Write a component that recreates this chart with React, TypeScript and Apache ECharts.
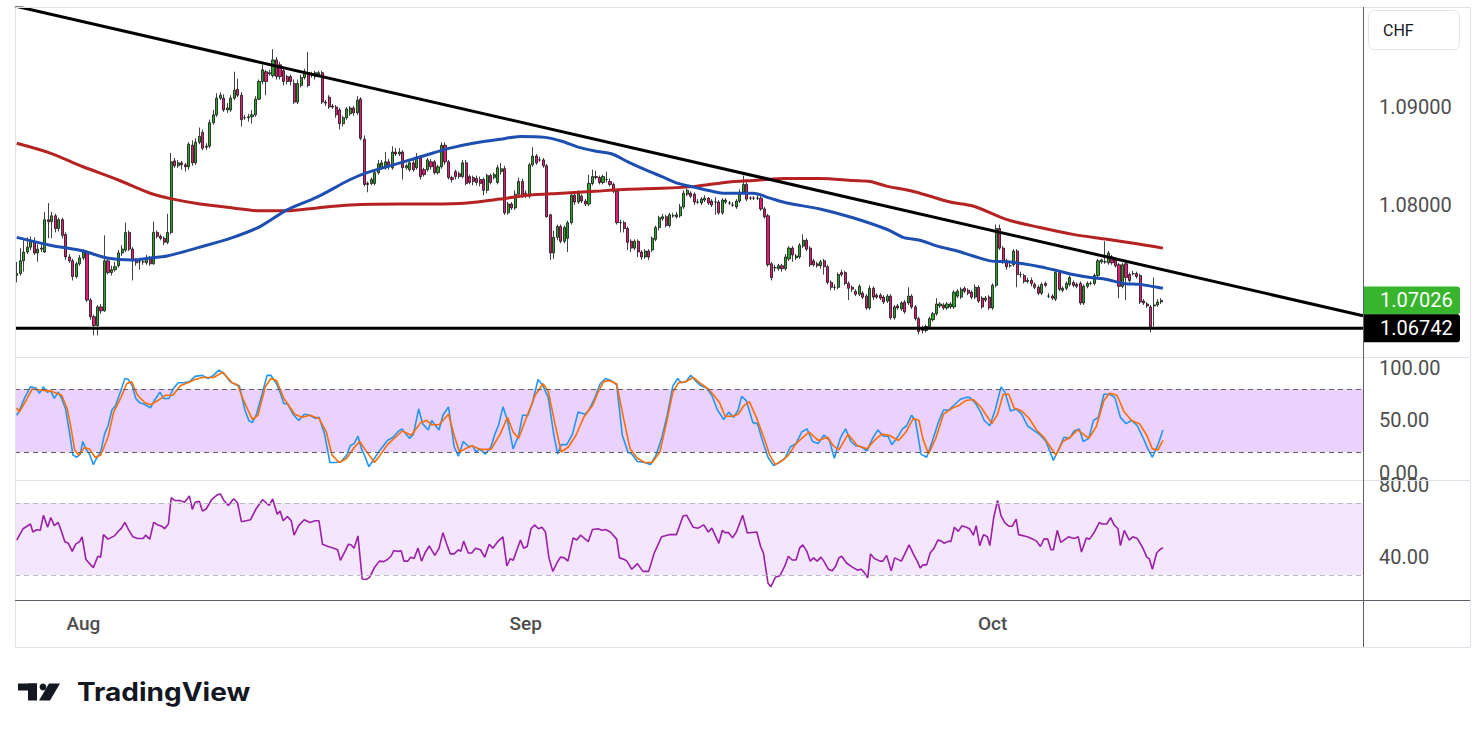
import React, { useEffect, useRef } from 'react';
import * as echarts from 'echarts';

const SLOT_COUNT = 384;
const monthTicks = [19, 145, 278];
const monthLabels = ['Aug', 'Sep', 'Oct'];
const priceTicks = [1.08, 1.09];
const stochTicks = [0, 50, 100];
const stochBands = [20, 80];
const rsiTicks = [40, 80];
const rsiBands = [30, 70];
const supportLevel = 1.06742;
const lastPrice = 1.07026;
const trendLine = [[-0.5, 1.1003], [383.5, 1.0687]];
const currency = 'CHF';

const opens = [
  1.0728,1.0730,1.0743,1.0752,1.0757,1.0762,1.0751,1.0755,1.0752,1.0785,
  1.0783,1.0789,1.0776,1.0785,1.0770,1.0747,1.0743,1.0727,1.0740,1.0746,
  1.0752,1.0703,1.0686,1.0677,1.0696,1.0692,1.0743,1.0731,1.0734,1.0738,
  1.0751,1.0754,1.0772,1.0755,1.0744,1.0742,1.0742,1.0741,1.0746,1.0740,
  1.0772,1.0768,1.0766,1.0762,1.0772,1.0845,1.0840,1.0843,1.0841,1.0839,
  1.0861,1.0843,1.0864,1.0874,1.0859,1.0860,1.0884,1.0892,1.0909,1.0909,
  1.0897,1.0897,1.0909,1.0918,1.0912,1.0889,1.0889,1.0890,1.0892,1.0908,
  1.0926,1.0936,1.0934,1.0932,1.0948,1.0943,1.0937,1.0931,1.0931,1.0924,
  1.0905,1.0922,1.0930,1.0935,1.0933,1.0931,1.0933,1.0935,1.0905,1.0910,
  1.0901,1.0900,1.0897,1.0883,1.0889,1.0893,1.0899,1.0894,1.0908,1.0867,
  1.0822,1.0822,1.0822,1.0833,1.0838,1.0838,1.0844,1.0838,1.0854,1.0852,
  1.0854,1.0838,1.0836,1.0843,1.0838,1.0849,1.0836,1.0836,1.0844,1.0844,
  1.0833,1.0839,1.0861,1.0844,1.0828,1.0834,1.0832,1.0829,1.0843,1.0829,
  1.0828,1.0827,1.0826,1.0826,1.0815,1.0830,1.0828,1.0823,1.0834,1.0837,
  1.0792,1.0801,1.0797,1.0811,1.0824,1.0812,1.0809,1.0841,1.0850,1.0846,
  1.0846,1.0840,1.0790,1.0751,1.0767,1.0778,1.0763,1.0766,1.0782,1.0810,
  1.0803,1.0809,1.0804,1.0801,1.0822,1.0829,1.0828,1.0823,1.0826,1.0824,
  1.0821,1.0814,1.0782,1.0782,1.0776,1.0763,1.0756,1.0763,1.0752,1.0747,
  1.0753,1.0754,1.0765,1.0777,1.0786,1.0788,1.0779,1.0789,1.0788,1.0789,
  1.0798,1.0811,1.0812,1.0811,1.0803,1.0802,1.0805,1.0807,1.0804,1.0803,
  1.0803,1.0792,1.0803,1.0802,1.0800,1.0798,1.0804,1.0813,1.0821,1.0807,
  1.0807,1.0807,1.0807,1.0796,1.0789,1.0740,1.0736,1.0735,1.0738,1.0735,
  1.0745,1.0756,1.0746,1.0747,1.0758,1.0764,1.0756,1.0743,1.0740,1.0738,
  1.0743,1.0737,1.0721,1.0716,1.0716,1.0731,1.0731,1.0720,1.0716,1.0712,
  1.0709,1.0710,1.0707,1.0695,1.0715,1.0708,1.0708,1.0706,1.0702,1.0707,
  1.0685,1.0697,1.0694,1.0701,1.0700,1.0707,1.0696,1.0684,1.0674,1.0672,
  1.0676,1.0683,1.0689,1.0697,1.0698,1.0695,1.0696,1.0696,1.0707,1.0706,
  1.0715,1.0713,1.0711,1.0706,1.0716,1.0705,1.0703,1.0706,1.0695,1.0718,
  1.0776,1.0756,1.0743,1.0738,1.0739,1.0753,1.0729,1.0728,1.0722,1.0723,
  1.0719,1.0716,1.0710,1.0720,1.0707,1.0707,1.0704,1.0731,1.0713,1.0715,
  1.0719,1.0721,1.0719,1.0720,1.0700,1.0717,1.0720,1.0720,1.0728,1.0742,
  1.0742,1.0741,1.0747,1.0745,1.0739,1.0717,1.0740,1.0729,1.0730,1.0730,
  1.0728,1.0702,1.0699,1.0696,1.0697,1.0698,1.0701,
];

const closes = [
  1.0730,1.0743,1.0752,1.0757,1.0762,1.0751,1.0755,1.0756,1.0785,1.0783,
  1.0789,1.0776,1.0785,1.0769,1.0747,1.0743,1.0727,1.0740,1.0746,1.0752,
  1.0703,1.0686,1.0677,1.0696,1.0692,1.0743,1.0731,1.0734,1.0737,1.0751,
  1.0755,1.0772,1.0755,1.0743,1.0741,1.0742,1.0742,1.0746,1.0740,1.0772,
  1.0768,1.0766,1.0762,1.0772,1.0844,1.0840,1.0843,1.0841,1.0839,1.0862,
  1.0843,1.0864,1.0870,1.0858,1.0860,1.0884,1.0892,1.0909,1.0912,1.0897,
  1.0899,1.0909,1.0917,1.0912,1.0887,1.0889,1.0890,1.0892,1.0908,1.0926,
  1.0938,1.0926,1.0935,1.0948,1.0931,1.0931,1.0926,1.0926,1.0926,1.0905,
  1.0924,1.0930,1.0936,1.0922,1.0934,1.0935,1.0935,1.0905,1.0904,1.0900,
  1.0900,1.0892,1.0883,1.0889,1.0898,1.0899,1.0894,1.0907,1.0868,1.0821,
  1.0821,1.0826,1.0833,1.0842,1.0843,1.0844,1.0839,1.0854,1.0852,1.0854,
  1.0838,1.0840,1.0843,1.0836,1.0849,1.0829,1.0831,1.0846,1.0839,1.0833,
  1.0839,1.0861,1.0844,1.0828,1.0826,1.0829,1.0829,1.0843,1.0822,1.0823,
  1.0824,1.0823,1.0822,1.0815,1.0830,1.0823,1.0831,1.0838,1.0837,1.0792,
  1.0801,1.0797,1.0811,1.0824,1.0809,1.0809,1.0841,1.0850,1.0843,1.0846,
  1.0840,1.0788,1.0751,1.0767,1.0778,1.0763,1.0777,1.0782,1.0810,1.0803,
  1.0812,1.0804,1.0801,1.0822,1.0829,1.0828,1.0823,1.0829,1.0826,1.0821,
  1.0814,1.0782,1.0782,1.0776,1.0762,1.0756,1.0763,1.0752,1.0747,1.0753,
  1.0747,1.0766,1.0777,1.0787,1.0788,1.0779,1.0790,1.0789,1.0790,1.0798,
  1.0812,1.0815,1.0809,1.0803,1.0803,1.0806,1.0807,1.0802,1.0800,1.0803,
  1.0792,1.0805,1.0805,1.0802,1.0800,1.0804,1.0813,1.0821,1.0806,1.0807,
  1.0807,1.0807,1.0796,1.0788,1.0739,1.0726,1.0736,1.0738,1.0735,1.0747,
  1.0756,1.0749,1.0748,1.0759,1.0764,1.0755,1.0739,1.0739,1.0738,1.0742,
  1.0737,1.0721,1.0716,1.0716,1.0729,1.0729,1.0720,1.0715,1.0714,1.0709,
  1.0717,1.0706,1.0695,1.0715,1.0706,1.0706,1.0705,1.0701,1.0707,1.0685,
  1.0696,1.0695,1.0700,1.0691,1.0707,1.0696,1.0684,1.0671,1.0672,1.0676,
  1.0684,1.0689,1.0699,1.0699,1.0695,1.0699,1.0699,1.0711,1.0712,1.0714,
  1.0712,1.0710,1.0706,1.0716,1.0702,1.0696,1.0705,1.0695,1.0718,1.0776,
  1.0756,1.0742,1.0737,1.0738,1.0753,1.0729,1.0729,1.0722,1.0723,1.0720,
  1.0716,1.0710,1.0719,1.0718,1.0707,1.0705,1.0731,1.0714,1.0715,1.0720,
  1.0726,1.0718,1.0717,1.0700,1.0717,1.0720,1.0720,1.0728,1.0743,1.0744,
  1.0742,1.0751,1.0741,1.0738,1.0717,1.0739,1.0726,1.0723,1.0730,1.0727,
  1.0701,1.0700,1.0697,1.0676,1.0698,1.0701,1.07026,
];

const highs = [
  1.0742,1.0756,1.0764,1.0767,1.0768,1.0767,1.0760,1.0761,1.0793,1.0802,
  1.0793,1.0791,1.0787,1.0787,1.0772,1.0750,1.0745,1.0742,1.0749,1.0755,
  1.0754,1.0705,1.0688,1.0698,1.0699,1.0769,1.0746,1.0738,1.0742,1.0754,
  1.0759,1.0782,1.0774,1.0757,1.0746,1.0746,1.0745,1.0749,1.0748,1.0783,
  1.0774,1.0770,1.0768,1.0791,1.0853,1.0848,1.0846,1.0845,1.0843,1.0864,
  1.0866,1.0868,1.0879,1.0877,1.0863,1.0887,1.0897,1.0914,1.0915,1.0913,
  1.0904,1.0912,1.0936,1.0929,1.0915,1.0892,1.0893,1.0897,1.0911,1.0928,
  1.0943,1.0938,1.0938,1.0959,1.0951,1.0946,1.0940,1.0933,1.0933,1.0928,
  1.0928,1.0933,1.0939,1.0956,1.0936,1.0937,1.0937,1.0937,1.0907,1.0912,
  1.0903,1.0902,1.0899,1.0891,1.0900,1.0901,1.0901,1.0911,1.0910,1.0871,
  1.0824,1.0828,1.0836,1.0846,1.0846,1.0854,1.0847,1.0860,1.0858,1.0858,
  1.0856,1.0842,1.0846,1.0846,1.0853,1.0851,1.0838,1.0848,1.0847,1.0846,
  1.0841,1.0864,1.0864,1.0846,1.0830,1.0836,1.0834,1.0846,1.0846,1.0831,
  1.0830,1.0830,1.0829,1.0828,1.0832,1.0832,1.0833,1.0841,1.0843,1.0840,
  1.0803,1.0803,1.0815,1.0828,1.0827,1.0815,1.0843,1.0859,1.0852,1.0849,
  1.0848,1.0842,1.0791,1.0774,1.0780,1.0780,1.0779,1.0784,1.0812,1.0812,
  1.0815,1.0811,1.0806,1.0831,1.0836,1.0835,1.0830,1.0831,1.0834,1.0827,
  1.0823,1.0816,1.0785,1.0784,1.0778,1.0765,1.0765,1.0765,1.0754,1.0755,
  1.0755,1.0768,1.0779,1.0789,1.0791,1.0790,1.0792,1.0792,1.0793,1.0801,
  1.0815,1.0817,1.0814,1.0813,1.0806,1.0808,1.0810,1.0808,1.0806,1.0808,
  1.0805,1.0807,1.0807,1.0804,1.0803,1.0806,1.0816,1.0830,1.0826,1.0809,
  1.0809,1.0810,1.0809,1.0798,1.0791,1.0742,1.0739,1.0740,1.0740,1.0750,
  1.0758,1.0758,1.0750,1.0761,1.0770,1.0766,1.0758,1.0745,1.0742,1.0744,
  1.0745,1.0739,1.0723,1.0719,1.0731,1.0734,1.0733,1.0722,1.0718,1.0714,
  1.0719,1.0712,1.0709,1.0718,1.0717,1.0710,1.0710,1.0708,1.0709,1.0709,
  1.0698,1.0699,1.0702,1.0703,1.0716,1.0709,1.0698,1.0686,1.0677,1.0678,
  1.0686,1.0691,1.0705,1.0701,1.0700,1.0701,1.0701,1.0713,1.0714,1.0716,
  1.0717,1.0715,1.0713,1.0719,1.0718,1.0707,1.0707,1.0708,1.0720,1.0780,
  1.0780,1.0758,1.0745,1.0741,1.0755,1.0755,1.0732,1.0730,1.0726,1.0726,
  1.0721,1.0718,1.0721,1.0722,1.0710,1.0709,1.0733,1.0733,1.0717,1.0722,
  1.0728,1.0723,1.0721,1.0722,1.0719,1.0722,1.0722,1.0730,1.0745,1.0745,
  1.0763,1.0753,1.0749,1.0747,1.0741,1.0741,1.0742,1.0731,1.0733,1.0732,
  1.0730,1.0704,1.0701,1.0698,1.0726,1.0704,1.0705,
];

const lows = [
  1.0721,1.0728,1.0732,1.0750,1.0754,1.0749,1.0742,1.0752,1.0751,1.0766,
  1.0766,1.0772,1.0773,1.0766,1.0744,1.0741,1.0723,1.0725,1.0738,1.0744,
  1.0701,1.0683,1.0667,1.0667,1.0689,1.0691,1.0729,1.0728,1.0732,1.0736,
  1.0748,1.0752,1.0753,1.0723,1.0738,1.0734,1.0739,1.0739,1.0738,1.0739,
  1.0766,1.0764,1.0759,1.0760,1.0770,1.0838,1.0838,1.0836,1.0834,1.0836,
  1.0840,1.0841,1.0862,1.0856,1.0856,1.0858,1.0882,1.0890,1.0907,1.0895,
  1.0894,1.0895,1.0907,1.0910,1.0880,1.0887,1.0885,1.0883,1.0890,1.0907,
  1.0923,1.0912,1.0932,1.0930,1.0928,1.0928,1.0922,1.0923,1.0922,1.0903,
  1.0903,1.0920,1.0928,1.0920,1.0930,1.0928,1.0931,1.0903,1.0901,1.0898,
  1.0898,1.0889,1.0877,1.0880,1.0887,1.0891,1.0891,1.0892,1.0866,1.0819,
  1.0813,1.0820,1.0820,1.0831,1.0836,1.0836,1.0836,1.0836,1.0850,1.0850,
  1.0826,1.0836,1.0834,1.0834,1.0836,1.0826,1.0829,1.0834,1.0836,1.0831,
  1.0831,1.0837,1.0841,1.0826,1.0823,1.0826,1.0827,1.0827,1.0820,1.0821,
  1.0820,1.0820,1.0819,1.0810,1.0812,1.0821,1.0826,1.0821,1.0831,1.0790,
  1.0790,1.0795,1.0795,1.0809,1.0807,1.0807,1.0807,1.0839,1.0841,1.0844,
  1.0838,1.0787,1.0744,1.0745,1.0764,1.0761,1.0761,1.0752,1.0780,1.0800,
  1.0801,1.0802,1.0799,1.0799,1.0820,1.0826,1.0821,1.0821,1.0823,1.0819,
  1.0812,1.0780,1.0772,1.0772,1.0754,1.0752,1.0754,1.0747,1.0744,1.0745,
  1.0744,1.0752,1.0763,1.0774,1.0784,1.0777,1.0777,1.0787,1.0786,1.0787,
  1.0796,1.0809,1.0807,1.0800,1.0801,1.0800,1.0803,1.0800,1.0798,1.0790,
  1.0790,1.0790,1.0801,1.0800,1.0798,1.0796,1.0802,1.0811,1.0804,1.0805,
  1.0805,1.0805,1.0794,1.0786,1.0737,1.0723,1.0732,1.0733,1.0732,1.0733,
  1.0743,1.0742,1.0744,1.0745,1.0756,1.0753,1.0737,1.0737,1.0736,1.0735,
  1.0729,1.0719,1.0713,1.0713,1.0714,1.0727,1.0718,1.0703,1.0711,1.0707,
  1.0707,1.0704,1.0693,1.0693,1.0703,1.0704,1.0703,1.0699,1.0700,1.0683,
  1.0683,1.0693,1.0692,1.0689,1.0698,1.0694,1.0682,1.0668,1.0669,1.0670,
  1.0673,1.0681,1.0687,1.0695,1.0693,1.0693,1.0694,1.0694,1.0705,1.0704,
  1.0710,1.0708,1.0704,1.0704,1.0700,1.0694,1.0701,1.0693,1.0693,1.0716,
  1.0754,1.0740,1.0734,1.0736,1.0737,1.0716,1.0726,1.0720,1.0720,1.0717,
  1.0714,1.0708,1.0708,1.0716,1.0705,1.0703,1.0702,1.0712,1.0711,1.0713,
  1.0717,1.0716,1.0715,1.0698,1.0698,1.0715,1.0718,1.0718,1.0726,1.0740,
  1.0740,1.0739,1.0739,1.0736,1.0705,1.0715,1.0703,1.0721,1.0728,1.0725,
  1.0699,1.0698,1.0695,1.0670,1.0676,1.0696,1.0699,
];

const maFast = [
  [0,1.0767],[9.5,1.0759],[18.9,1.0753],[25.7,1.0746],[33.1,1.0744],[38,1.0746],[42.8,1.0748],
  [52.2,1.0757],[61.6,1.0767],[69.3,1.0778],[77,1.0795],[85.5,1.0808],[95,1.0826],[99.8,1.0833],
  [109.2,1.0843],[118.6,1.0853],[123.4,1.0858],[130,1.0863],[137.7,1.0867],[143.4,1.0870],
  [150.5,1.0869],[155.3,1.0865],[159.9,1.0859],[164.7,1.0855],[169.6,1.0852],[174.1,1.0844],
  [179,1.0836],[183.8,1.0829],[188.4,1.0822],[193.2,1.0818],[198.1,1.0814],[201.8,1.0812],
  [209.8,1.0812],[214.6,1.0807],[219.4,1.0802],[228.8,1.0796],[238.2,1.0787],[248,1.0775],
  [252.5,1.0767],[257.3,1.0764],[262.2,1.0758],[267.9,1.0753],[272.4,1.0748],[277.3,1.0743],
  [282.1,1.0742],[286.7,1.0740],[291.5,1.0737],[296.4,1.0733],[300.9,1.0729],[305.8,1.0726],
  [310.6,1.0724],[315.2,1.0720],[320,1.0719],[324.9,1.0716],[326.5,1.0715],
];

const maSlow = [
  [0,1.0863],[9.5,1.0853],[18.9,1.0839],[28.6,1.0826],[38,1.0812],[44.5,1.0806],[52.2,1.0801],
  [61.6,1.0797],[69.3,1.0794],[77,1.0794],[85.5,1.0797],[95,1.0800],[109.2,1.0801],[118.6,1.0801],
  [128.3,1.0802],[137.7,1.0806],[145.7,1.0810],[155.3,1.0812],[164.7,1.0814],[174.1,1.0816],
  [183.8,1.0817],[193.2,1.0819],[201.8,1.0823],[209.8,1.0825],[219.4,1.0827],[228.8,1.0827],
  [238.2,1.0825],[243.1,1.0824],[248,1.0819],[252.5,1.0816],[257.3,1.0812],[265.9,1.0803],
  [272.4,1.0799],[282.1,1.0785],[291.5,1.0777],[300.9,1.0770],[310.6,1.0765],[320,1.0760],
  [326.5,1.0756],
];

const stochK = [
  [0,55],[0.7,59],[2.3,72],[3.9,82],[5.5,81],[6.5,76],[7.6,82],[8.6,77],[9.7,78],[10.7,71],[11.8,77],
  [12.8,71],[13.9,61],[15,39],[16,17],[17.1,15],[18.1,18],[18.8,30],[19.7,23],[20.7,18],[21.8,8],
  [22.9,15],[23.9,20],[25,37],[26,45],[27.1,60],[28.1,64],[29.2,74],[30.8,90],[31.8,89],[32.9,83],
  [33.9,71],[35,67],[36,66],[37.1,64],[38.1,62],[39.2,69],[40.8,77],[41.8,71],[43.4,71],[44.5,80],
  [46,86],[47.6,86],[49.2,87],[50.8,92],[52.9,93],[54.5,90],[56,93],[57.6,98],[59.2,94],[60.8,87],
  [62.4,84],[63.4,83],[65,60],[66.1,50],[67.1,48],[68.2,55],[69.8,74],[71.3,93],[72.4,93],[74,85],
  [75,77],[76.1,66],[77.1,66],[78.7,56],[80.3,50],[81.9,56],[83.5,55],[85,52],[86.1,53],[87.7,37],
  [89.2,10],[90.8,10],[92.4,11],[94,17],[95,26],[96.1,28],[97.2,35],[98.2,23],[99.3,15],[100.3,6],
  [101.9,14],[103.5,22],[105.6,31],[107.2,34],[108.8,40],[109.8,42],[110.9,37],[111.9,33],[113,37],
  [114.5,61],[115.6,47],[117.2,41],[118.2,50],[119.3,45],[120.3,41],[121.4,55],[123,63],[124.6,25],
  [125.8,16],[127.2,30],[128.8,25],[129.8,26],[130.9,20],[131.9,23],[133.5,18],[135.1,25],[136.2,37],
  [137.2,45],[138.5,63],[139.8,50],[141.4,23],[143,36],[144.1,55],[145.6,55],[146.9,67],[148.5,89],
  [149.9,83],[151.4,72],[153,36],[154.1,18],[155.1,27],[156.7,27],[158.3,37],[159.9,58],
  [161.9,56],[163,60],[164.6,71],[166.2,85],[167.7,90],[169.3,88],[170.9,84],[172.5,36],[174.1,20],
  [175.2,18],[176.8,11],[178.9,10],[180.5,8],[182.1,17],[183.7,33],[185.3,55],[186.9,83],[188.3,90],
  [189.3,86],[190.6,87],[192,93],[193.3,88],[194.9,83],[196.5,81],[198,74],[199.6,60],[201.4,51],
  [202.8,58],[204.2,53],[205.5,60],[206.5,73],[207.8,69],[209.7,48],[211,47],[212.4,31],[214,15],
  [215.6,7],[217.2,10],[218.8,14],[220.4,25],[222,28],[223.6,39],[225.1,42],[226.7,30],[228.3,28],
  [229.9,36],[231.5,31],[232.9,14],[234.7,34],[236.1,42],[237.6,30],[239,26],[240.6,25],[242.2,21],
  [243.8,33],[245.3,41],[246.9,35],[248.2,35],[249.3,27],[250.7,33],[252.3,42],[253.5,45],[254.9,55],
  [256,50],[257.6,18],[259.2,15],[260.8,30],[262.4,47],[264,60],[265.5,60],[267.1,65],[268.7,70],
  [270.3,72],[271.4,72],[273,67],[274.6,58],[275.6,50],[277.2,45],[278.8,61],[280.4,82],[281.5,77],
  [283.1,59],[284.7,61],[286.3,56],[287.9,45],[289.5,41],[291.6,36],[293.2,30],[295.3,12],[296.9,23],
  [298.3,34],[299.9,33],[301.2,40],[302.7,42],[303.8,30],[305.4,33],[306.7,50],[308.1,53],[309.7,75],
  [311.3,75],[312.8,72],[314.4,53],[316,47],[317.6,50],[319.2,45],[320.8,34],[322.2,23],[323.5,15],
  [325.1,27],[326.5,41],
];

const stochD = [
  [0,62],[0.7,58],[2.8,70],[4.4,80],[6.5,79],[9.7,78],[11.3,76],[12.8,74],[14.4,61],[15.5,42],
  [16.5,22],[17.6,17],[19.2,24],[20.7,23],[22.3,15],[23.9,17],[26,34],[27.6,58],[29.7,72],[31.3,85],
  [32.7,87],[34.4,74],[36.5,67],[38.1,65],[40.2,69],[42.3,74],[44.5,74],[46.6,83],[48.7,86],[50.8,89],
  [52.9,91],[56,91],[58.7,96],[61.3,86],[62.9,84],[64.5,70],[67.1,51],[68.7,55],[70.8,82],[72.4,90],
  [74,88],[76.1,71],[79.2,56],[81.3,53],[83.5,55],[86.1,52],[88.2,39],[89.8,17],[91.9,10],[94,14],
  [96.1,24],[97.7,30],[99.3,22],[101.9,10],[103.5,17],[105.6,27],[108.2,35],[109.8,40],[112.4,36],
  [115.1,48],[116.7,50],[118.2,46],[120.3,46],[123,56],[124.6,36],[126.1,20],[127.7,23],[129.8,26],
  [131.9,22.5],[135.1,22.5],[137.7,37],[139.8,53],[141.4,39],[143,33],[145.1,52],[147.7,74],[149.9,85],
  [151.4,78],[153.5,44],[155.1,20],[157.2,25],[159.3,36],[161.5,53],[164,64],[165.6,77],[167.2,87],
  [168.8,88],[170.9,85],[172.5,58],[174.7,23],[176.8,14],[178.9,10],[181,10],[183.2,20],[185.1,48],
  [186.9,77],[188.5,86],[190.6,87],[192.7,91],[194.9,85],[197,80],[198.6,74],[200.2,67],[201.8,54],
  [203.9,54],[205.5,56],[207.1,64],[208.7,68],[210.8,52],[212.9,33],[214.5,17],[216.1,8],[218.2,12],
  [219.8,17],[222,28],[223.6,33],[225.7,39],[228.3,31],[231,34],[232.6,26],[234.2,22],[236.8,37],
  [239.5,26],[242.2,23],[244.3,31],[246.4,37],[248.5,36],[251.2,31],[253.3,39],[255.4,52],[257,50],
  [258.1,33],[259.7,18],[261.8,33],[264,56],[266.6,62],[268.2,64],[270.3,69],[272.5,70],[274.6,63],
  [276.2,55],[277.8,47],[279.4,56],[281,75],[282.6,75],[284.1,62],[286.3,59],[288.4,52],[290.5,41],
  [292.6,34],[294.2,26],[296,17],[298,30],[300.1,34],[302.2,41],[305.4,33],[307.5,44],[309.7,69],
  [311.3,76],[313.4,74],[315.5,58],[317.6,50],[319.8,47],[321.9,36],[323.5,23],[325.1,22],[326.5,31],
];

const rsi = [
  [0,49.4],[1.8,55.7],[3.9,58.3],[4.6,53.9],[5.7,55.1],[6.7,54.8],[7.6,63.2],[8.8,56.5],[9.7,61.9],
  [10.7,57.4],[11.8,59.2],[12.8,53.9],[13.7,48.5],[14.7,47.6],[15.8,43.1],[16.8,47.1],[17.9,48.5],
  [18.6,51.2],[19.7,38.6],[21.8,34.1],[23.1,40.4],[23.9,39.9],[24.7,52.4],[26,49.9],[27.8,51.7],
  [29.2,54.8],[29.7,55.7],[30.8,59.2],[31.8,55.3],[33.1,51.2],[34.4,50.3],[36,50.3],[36.7,52.1],
  [37.9,49.9],[39,59.2],[40.2,57.8],[41.3,57.1],[42.1,55.7],[43.2,58.3],[44,72.9],[45,71.4],
  [46.6,71.3],[47.8,70.4],[49.2,73.9],[50,66.4],[50.8,70.4],[52,70.9],[52.9,65.5],[54,66.8],
  [55.5,71.8],[57.1,74.5],[58,75],[59,71.4],[60.3,68.6],[61.8,72.3],[62.9,70],[64,59.6],[66.6,60.7],
  [68.2,66.8],[70,71.8],[71.9,68.6],[72.9,72.2],[74.2,63.7],[75,65.5],[75.9,60.1],[77.1,62.5],
  [78.2,60.1],[79,52.1],[80.3,57.4],[81.9,60.7],[83.5,59.2],[85,60.1],[86.1,60.1],[87.1,47],
  [88.7,45.8],[90.3,44.9],[91.4,44],[92.2,38.1],[93.5,43.1],[94.5,47.1],[95.3,46.7],[96.1,44.9],
  [97.2,51.7],[98.4,27.8],[99.5,27.5],[100.5,28.7],[101.9,34.1],[103.3,37.7],[104.5,37.4],[105.6,38.6],
  [106.6,40.4],[107.4,43.5],[108.8,43.1],[109.5,43.5],[110.3,37.7],[111.4,37.7],[112.2,39.9],
  [113.2,39.1],[114.3,44.9],[115.3,37.7],[116.3,42.2],[117.5,46.1],[119.1,40.9],[120.3,44.9],
  [121.4,53.5],[122.4,47.6],[123.5,41.7],[124.6,41.7],[125.8,44],[126.5,43.1],[127.3,48.8],
  [128.6,42.2],[129.6,42.2],[130.7,44.9],[132.1,44],[133.3,39.9],[134.6,47.1],[135.6,44.9],[137,48.5],
  [138.5,51.2],[139.6,35],[140.6,39.1],[141.4,38.1],[143.5,49.4],[144.4,44.9],[145.4,45.8],
  [146.5,55.7],[147.5,57.8],[148.6,55.7],[149.6,56.5],[150.6,53.9],[151.6,39.5],[152.7,32],
  [153.9,36.8],[154.9,39.9],[156,39.5],[157,37.7],[158.5,50.6],[159.5,49.4],[160.6,52.1],
  [162.8,48.5],[164,55.3],[165.6,55.7],[166.7,54.8],[167.7,55.3],[169.1,53.9],[170.9,49.9],
  [171.7,39.5],[173.1,38.6],[173.8,37.7],[175.2,33.2],[176.8,36.3],[178.4,32],[180,32],[181.6,42.2],
  [183.7,51.2],[185.8,52.4],[187.9,52.4],[189.8,62.8],[190.8,63.2],[192.7,56.5],[194.1,56],
  [195.7,57.8],[197,53.9],[198,56],[200,47.6],[201,54.8],[201.8,53.5],[202.8,53.5],[203.9,50.6],
  [205,53.9],[206.8,63.2],[208.1,53.3],[210.8,53.9],[211.9,45.8],[212.7,42.2],[214,25.5],[214.8,23.4],
  [216.1,28.7],[217.4,29.6],[218.8,35],[219.8,40.4],[220.9,38.3],[222,38.3],[223,44.9],[223.9,46.7],
  [225.1,43.1],[226,37.7],[227,39.5],[228,37.7],[229.1,39.9],[229.9,37.7],[231.2,33.2],[232.3,32.3],
  [233.3,35],[234.2,39.5],[235,40.4],[236.3,36.8],[237.9,34.5],[239.5,32.7],[240.6,33.2],[241.6,30.9],
  [242.4,28.4],[243.2,41.7],[244.3,39.1],[245.9,37.7],[246.7,37.7],[247.8,40.9],[249.1,32.3],
  [250.1,39.5],[252,37.7],[254.2,46.7],[255.4,41.7],[256.5,37.7],[257.4,33.8],[258.1,35.6],
  [259.2,35.6],[260.2,42.2],[261.3,44.9],[262.4,49.4],[263.4,48.8],[264.2,47.6],[265.5,48.8],
  [266.1,48.5],[267.1,56.5],[268.2,54.2],[269.3,57.4],[270.5,56.5],[271.4,55.7],[272.5,52.1],
  [273.3,57.4],[274.3,46.3],[275.4,52.4],[276.5,51.2],[277.2,46.3],[278.3,61.9],[279.4,71.4],
  [280.4,62.8],[281.5,58.9],[282.6,57.1],[283.6,57.1],[284.7,61],[285.4,52.4],[287.9,51.2],
  [289.5,49.9],[290.5,48.8],[291.6,45.8],[292.6,49.9],[293.7,49.9],[294.6,44],[295.3,44],[296.4,54.8],
  [297.4,48.1],[299.6,51.2],[301.2,50.3],[302.4,51.2],[303.3,42.7],[304.7,50.6],[305.6,49.9],[307,53.9],
  [308.4,59.2],[309.1,58.3],[310.5,58.3],[311.6,61.9],[312.6,57.8],[313.7,55.7],[314.4,46.3],
  [315.5,54.8],[316.9,49.4],[317.9,51.2],[319.2,50.3],[320.8,44.9],[321.9,39.9],[322.6,39.1],
  [323.5,33.2],[324.7,42.2],[325.6,44],[326.5,45.2],
];

const FONT = 'Roboto, "Noto Sans", sans-serif';
const AXIS_TEXT = '#4d4d4d';

export default function App() {
  const ref = useRef<HTMLDivElement>(null);

  useEffect(() => {
    document.body.style.margin = '0';
    const chart = echarts.init(ref.current as HTMLDivElement, null, { renderer: 'svg' });
    const categories = Array.from({ length: SLOT_COUNT }, (_, i) => String(i));
    const candles = opens.map((o, i) => [o, closes[i], lows[i], highs[i]]);
    const xMin = -0.5;
    const xMax = SLOT_COUNT - 0.5;
    const supportLine = [[xMin, supportLevel], [xMax, supportLevel]];

    const hiddenValueX = (gridIndex: number) => ({
      type: 'value', gridIndex, min: xMin, max: xMax, show: false,
    });

    chart.setOption({
      animation: false,
      backgroundColor: '#ffffff',
      grid: [
        { left: 15, top: 8, width: 1348, height: 349 },
        { left: 15, top: 358, width: 1348, height: 122 },
        { left: 15, top: 481, width: 1348, height: 119 },
      ],
      xAxis: [
        { type: 'category', gridIndex: 0, data: categories, boundaryGap: true, show: false },
        hiddenValueX(0),
        hiddenValueX(1),
        {
          type: 'value', gridIndex: 2, min: xMin, max: xMax,
          axisLine: { show: false }, axisTick: { show: false }, splitLine: { show: false },
          axisLabel: {
            customValues: monthTicks,
            formatter: (v: number) => monthLabels[monthTicks.indexOf(Math.round(v))] || '',
            margin: 14, fontSize: 19, fontWeight: 500, color: AXIS_TEXT, fontFamily: FONT,
          },
        },
      ],
      yAxis: [
        {
          type: 'value', gridIndex: 0, position: 'right', min: 1.06449, max: 1.1001, scale: true,
          axisLine: { show: false }, axisTick: { show: false }, splitLine: { show: false },
          axisLabel: {
            customValues: priceTicks, formatter: (v: number) => v.toFixed(5),
            margin: 16, fontSize: 20, color: AXIS_TEXT, fontFamily: FONT,
          },
        },
        {
          type: 'value', gridIndex: 1, position: 'right', min: -6.67, max: 109.52,
          axisLine: { show: false }, axisTick: { show: false }, splitLine: { show: false },
          axisLabel: {
            customValues: stochTicks, formatter: (v: number) => v.toFixed(2),
            margin: 16, fontSize: 20, color: AXIS_TEXT, fontFamily: FONT,
          },
        },
        {
          type: 'value', gridIndex: 2, position: 'right', min: 16.1, max: 82.2,
          axisLine: { show: false }, axisTick: { show: false }, splitLine: { show: false },
          axisLabel: {
            customValues: rsiTicks, formatter: (v: number) => v.toFixed(2),
            margin: 16, fontSize: 20, color: AXIS_TEXT, fontFamily: FONT,
          },
        },
      ],
      series: [
        {
          type: 'candlestick', xAxisIndex: 0, yAxisIndex: 0, data: candles, barWidth: 2.6,
          itemStyle: {
            color: '#2aa52a', color0: '#e8197a', borderColor: '#111111', borderColor0: '#111111', borderWidth: 0.8,
          },
        },
        {
          type: 'line', xAxisIndex: 1, yAxisIndex: 0, data: maSlow, showSymbol: false, smooth: 0.3,
          lineStyle: { color: '#b52222', width: 3 },
        },
        {
          type: 'line', xAxisIndex: 1, yAxisIndex: 0, data: maFast, showSymbol: false, smooth: 0.3,
          lineStyle: { color: '#1d4fb2', width: 3 },
        },
        {
          type: 'line', xAxisIndex: 1, yAxisIndex: 0, data: trendLine, showSymbol: false,
          lineStyle: { color: '#000000', width: 3 },
        },
        {
          type: 'line', xAxisIndex: 1, yAxisIndex: 0, data: supportLine, showSymbol: false,
          lineStyle: { color: '#000000', width: 3 },
        },
        {
          type: 'line', xAxisIndex: 2, yAxisIndex: 1, data: stochK, showSymbol: false,
          lineStyle: { color: '#2196f3', width: 1.6 },
          markArea: {
            silent: true, itemStyle: { color: '#ead2fd' },
            data: [[{ yAxis: stochBands[0] }, { yAxis: stochBands[1] }]],
          },
          markLine: {
            silent: true, symbol: 'none', label: { show: false },
            lineStyle: { color: '#5f626d', type: [5, 4], width: 1 },
            data: stochBands.map((v) => ({ yAxis: v })),
          },
        },
        {
          type: 'line', xAxisIndex: 2, yAxisIndex: 1, data: stochD, showSymbol: false,
          lineStyle: { color: '#ff6d00', width: 1.6 },
        },
        {
          type: 'line', xAxisIndex: 3, yAxisIndex: 2, data: rsi, showSymbol: false,
          lineStyle: { color: '#9b1fa8', width: 1.6 },
          markArea: {
            silent: true, itemStyle: { color: '#f4e7fd' },
            data: [[{ yAxis: rsiBands[0] }, { yAxis: rsiBands[1] }]],
          },
          markLine: {
            silent: true, symbol: 'none', label: { show: false },
            lineStyle: { color: '#b8bac1', type: [5, 4], width: 1 },
            data: rsiBands.map((v) => ({ yAxis: v })),
          },
        },
      ],
    });

    const tagX = chart.convertToPixel({ xAxisIndex: 1 }, xMax) as number;
    const yLast = chart.convertToPixel({ yAxisIndex: 0 }, lastPrice) as number;
    const ySup = chart.convertToPixel({ yAxisIndex: 0 }, supportLevel) as number;

    const tag = (y: number, fill: string, value: number) => ({
      type: 'group', z: 50,
      children: [
        { type: 'rect', shape: { x: tagX, y: y - 14, width: 97, height: 28, r: [0, 3, 3, 0] }, style: { fill } },
        {
          type: 'text', x: tagX + 17, y,
          style: { text: value.toFixed(5), fill: '#ffffff', fontSize: 20, fontFamily: FONT, verticalAlign: 'middle', align: 'left' },
        },
      ],
    });

    chart.setOption({
      graphic: [
        { type: 'rect', shape: { x: 15.5, y: 7.5, width: 1455, height: 640 }, style: { fill: 'none', stroke: '#e0e3eb', lineWidth: 1 }, z: 40 },
        { type: 'line', shape: { x1: 15, y1: 357.5, x2: 1470, y2: 357.5 }, style: { stroke: '#e0e3eb', lineWidth: 1 }, z: 40 },
        { type: 'line', shape: { x1: 15, y1: 480.5, x2: 1470, y2: 480.5 }, style: { stroke: '#e0e3eb', lineWidth: 1 }, z: 40 },
        { type: 'line', shape: { x1: 15, y1: 600.5, x2: 1470, y2: 600.5 }, style: { stroke: '#5d606b', lineWidth: 1 }, z: 40 },
        { type: 'line', shape: { x1: tagX + 0.5, y1: 7, x2: tagX + 0.5, y2: 647 }, style: { stroke: '#5d606b', lineWidth: 1 }, z: 40 },
        { type: 'rect', shape: { x: 1368.5, y: 10.5, width: 91, height: 39, r: 6 }, style: { fill: '#ffffff', stroke: '#e0e3eb', lineWidth: 1 }, z: 40 },
        { type: 'text', x: 1383, y: 30.5, style: { text: currency, fill: '#131722', fontSize: 16, fontFamily: FONT, verticalAlign: 'middle' }, z: 41 },
        tag(yLast, '#37b52c', lastPrice),
        tag(ySup, '#000000', supportLevel),
        { type: 'rect', shape: { x: 18, y: 683.5, width: 19, height: 7 }, style: { fill: '#131722' } },
        { type: 'rect', shape: { x: 28, y: 683.5, width: 9, height: 17 }, style: { fill: '#131722' } },
        { type: 'circle', shape: { cx: 43, cy: 687, r: 3.4 }, style: { fill: '#131722' } },
        { type: 'polygon', shape: { points: [[49, 683.5], [60, 683.5], [50, 700.5], [39, 700.5]] }, style: { fill: '#131722' } },
        {
          type: 'text', x: 77, y: 692, scaleX: 1.12,
          style: { text: 'TradingView', fill: '#131722', fontSize: 25, fontWeight: 700, fontFamily: 'Inter, Roboto, sans-serif', verticalAlign: 'middle' },
        },
      ],
    });

    return () => chart.dispose();
  }, []);

  return <div ref={ref} style={{ width: 1482, height: 738, background: '#ffffff' }} />;
}
